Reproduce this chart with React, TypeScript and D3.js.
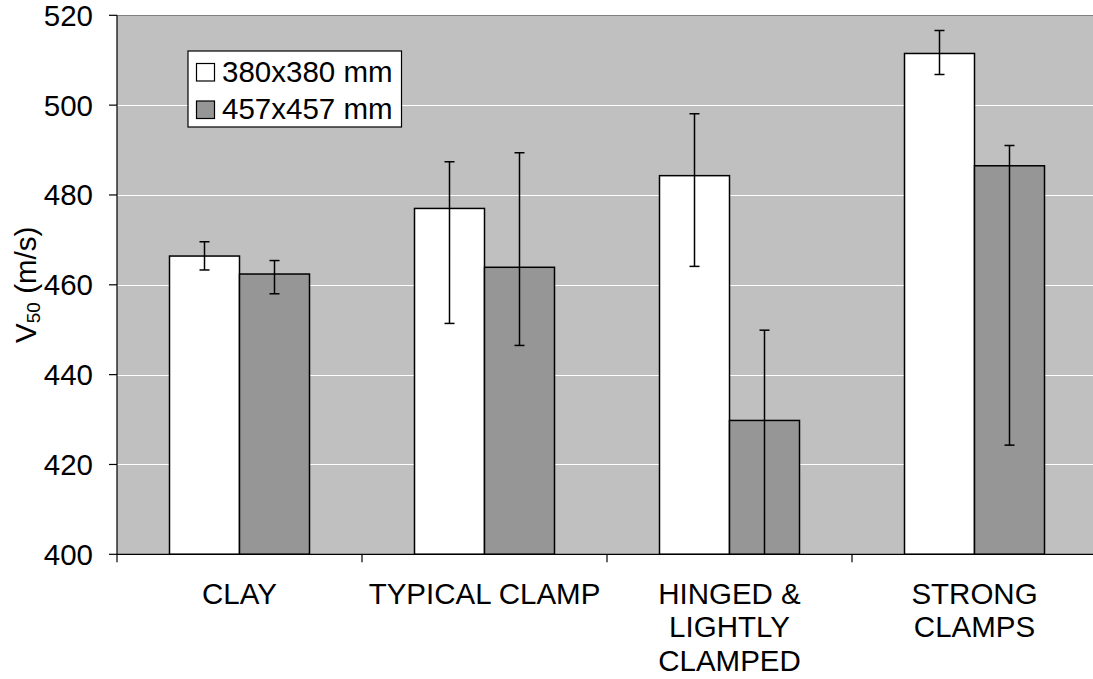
import React, { useEffect, useRef } from 'react';
import * as d3 from 'd3';

const categories = ['CLAY', 'TYPICAL CLAMP', 'HINGED & LIGHTLY CLAMPED', 'STRONG CLAMPS'];
const categoryLines = [['CLAY'], ['TYPICAL CLAMP'], ['HINGED &', 'LIGHTLY', 'CLAMPED'], ['STRONG', 'CLAMPS']];
const seriesNames = ['380x380 mm', '457x457 mm'];
const seriesColors = ['#ffffff', '#969696'];

const small = [466.4, 477.0, 484.3, 511.5];
const smallLow = [463.3, 451.4, 464.1, 506.8];
const smallHigh = [469.6, 487.4, 498.1, 516.6];

const large = [462.4, 463.9, 429.8, 486.5];
const largeLow = [458.0, 446.5, 395.0, 424.3];
const largeHigh = [465.4, 489.4, 449.9, 491.0];

const yTicks = [400, 420, 440, 460, 480, 500, 520];

const W = 1093;
const H = 679;
const FONT = 'Arial, "Liberation Sans", sans-serif';
const FS = 29.5;

export default function App() {
  const svgRef = useRef<SVGSVGElement>(null);

  useEffect(() => {
    const svg = d3.select(svgRef.current);
    svg.selectAll('*').remove();

    const left = 117, right = 1097, top = 15.3, bottom = 554.3;

    const x = d3.scaleBand().domain(categories).range([left, right]).padding(0);
    const xs = d3.scaleBand().domain(seriesNames).range([0, x.bandwidth()]).paddingInner(0).paddingOuter(0.75);
    const y = d3.scaleLinear().domain([400, 520]).range([bottom, top]);

    svg.append('defs').append('clipPath').attr('id', 'plot')
      .append('rect').attr('x', left).attr('y', top).attr('width', right - left).attr('height', bottom - top);

    // plot background
    svg.append('rect')
      .attr('x', left).attr('y', top)
      .attr('width', right - left).attr('height', bottom - top)
      .attr('fill', '#c0c0c0');

    // grid
    svg.append('g').selectAll('line')
      .data(yTicks.filter(t => t > 400 && t < 520))
      .join('line')
      .attr('x1', left).attr('x2', right)
      .attr('y1', d => Math.round(y(d)) + 0.5).attr('y2', d => Math.round(y(d)) + 0.5)
      .attr('stroke', '#ffffff').attr('stroke-width', 1);

    svg.append('line')
      .attr('x1', left).attr('x2', right)
      .attr('y1', Math.round(top) + 0.5).attr('y2', Math.round(top) + 0.5)
      .attr('stroke', '#808080').attr('stroke-width', 1.2);

    const rows = categories.map((c, i) => [
      { cat: c, s: seriesNames[0], v: small[i], lo: smallLow[i], hi: smallHigh[i], fill: seriesColors[0] },
      { cat: c, s: seriesNames[1], v: large[i], lo: largeLow[i], hi: largeHigh[i], fill: seriesColors[1] },
    ]).flat();

    const g = svg.append('g').attr('clip-path', 'url(#plot)');

    g.selectAll('rect.bar')
      .data(rows)
      .join('rect')
      .attr('class', 'bar')
      .attr('x', d => (x(d.cat) as number) + (xs(d.s) as number))
      .attr('y', d => y(d.v))
      .attr('width', xs.bandwidth())
      .attr('height', d => y(400) - y(d.v))
      .attr('fill', d => d.fill)
      .attr('stroke', '#000')
      .attr('stroke-width', 1.5);

    const cx = (d: any) => (x(d.cat) as number) + (xs(d.s) as number) + xs.bandwidth() / 2;

    g.selectAll('line.err')
      .data(rows)
      .join('line')
      .attr('class', 'err')
      .attr('x1', cx).attr('x2', cx)
      .attr('y1', d => y(d.hi)).attr('y2', d => y(d.lo))
      .attr('stroke', '#000').attr('stroke-width', 1.5);

    const caps = rows.flatMap(d => [{ d, v: d.hi }, { d, v: d.lo }]);
    g.selectAll('line.cap')
      .data(caps)
      .join('line')
      .attr('class', 'cap')
      .attr('x1', c => cx(c.d) - 5).attr('x2', c => cx(c.d) + 5)
      .attr('y1', c => y(c.v)).attr('y2', c => y(c.v))
      .attr('stroke', '#000').attr('stroke-width', 1.5);

    // axes
    svg.append('line')
      .attr('x1', left).attr('x2', left).attr('y1', top).attr('y2', bottom)
      .attr('stroke', '#000').attr('stroke-width', 1.2);
    svg.append('line')
      .attr('x1', left).attr('x2', right).attr('y1', bottom).attr('y2', bottom)
      .attr('stroke', '#000').attr('stroke-width', 1.2);

    const yt = svg.append('g');
    yt.selectAll('line')
      .data(yTicks)
      .join('line')
      .attr('x1', left - 8).attr('x2', left)
      .attr('y1', d => y(d)).attr('y2', d => y(d))
      .attr('stroke', '#000').attr('stroke-width', 1.2);
    yt.selectAll('text')
      .data(yTicks)
      .join('text')
      .attr('x', 93)
      .attr('y', d => y(d) + 10.5)
      .attr('text-anchor', 'end')
      .attr('font-family', FONT)
      .attr('font-size', FS)
      .text(d => d);

    const bounds = [...categories.map(c => x(c) as number), right];
    svg.append('g').selectAll('line')
      .data(bounds)
      .join('line')
      .attr('x1', d => d).attr('x2', d => d)
      .attr('y1', bottom).attr('y2', bottom + 8)
      .attr('stroke', '#000').attr('stroke-width', 1.2);

    const xl = svg.append('g');
    categories.forEach((c, i) => {
      const t = xl.append('text')
        .attr('text-anchor', 'middle')
        .attr('font-family', FONT)
        .attr('font-size', FS)
        .attr('x', (x(c) as number) + x.bandwidth() / 2)
        .attr('y', 604);
      categoryLines[i].forEach((ln, j) => {
        t.append('tspan')
          .attr('x', (x(c) as number) + x.bandwidth() / 2)
          .attr('dy', j === 0 ? 0 : 33.3)
          .text(ln);
      });
    });

    // y title
    const title = svg.append('text')
      .attr('transform', `translate(36,${(top + bottom) / 2}) rotate(-90)`)
      .attr('text-anchor', 'middle')
      .attr('font-family', FONT)
      .attr('font-size', FS);
    title.append('tspan').text('V');
    title.append('tspan').attr('font-size', 19).attr('dy', 4).text('50');
    title.append('tspan').attr('dy', -4).text(' (m/s)');

    // legend
    const lg = svg.append('g');
    lg.append('rect')
      .attr('x', 188).attr('y', 51)
      .attr('width', 213.5).attr('height', 76)
      .attr('fill', '#fff').attr('stroke', '#000').attr('stroke-width', 1.2);
    seriesNames.forEach((s, i) => {
      lg.append('rect')
        .attr('x', 196.5).attr('y', 63.5 + i * 37.5)
        .attr('width', 18).attr('height', 17.5)
        .attr('fill', seriesColors[i]).attr('stroke', '#000').attr('stroke-width', 1.2);
      lg.append('text')
        .attr('x', 222).attr('y', 81.5 + i * 37.5)
        .attr('font-family', FONT)
        .attr('font-size', FS)
        .text(s);
    });
  }, []);

  return (
    <svg
      ref={svgRef}
      width={W}
      height={H}
      style={{ position: 'absolute', left: 0, top: 0, background: '#fff', overflow: 'hidden' }}
    />
  );
}
